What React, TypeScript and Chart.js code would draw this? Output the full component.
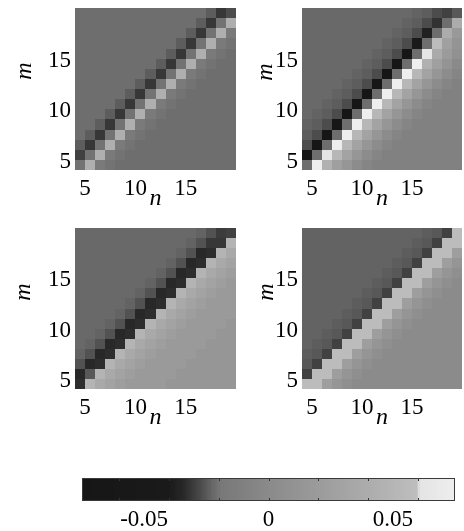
import React, { useEffect, useRef, useState } from "react";
import { Chart, registerables } from "chart.js";
Chart.register(...registerables);

// ---- data ----
// grid coordinates (cell [k, k+1])
const N_VALUES = [4, 5, 6, 7, 8, 9, 10, 11, 12, 13, 14, 15, 16, 17, 18, 19];
const M_VALUES = [4, 5, 6, 7, 8, 9, 10, 11, 12, 13, 14, 15, 16, 17, 18, 19];
const AXIS_TICKS = [5, 10, 15];
const CB_TICKS = [-0.05, 0, 0.05];
const CB_MINOR_TICKS = [-0.06, -0.04, -0.02, 0, 0.02, 0.04, 0.06];
const CB_MIN = -0.075;
const CB_MAX = 0.075;

// colour scale (values in units of 1e-3 -> grey level)
const CMAP_VALUES = [-75, -40, -34, -28, -22, -19, 0, 20, 40, 60, 61, 75];
const CMAP_GRAYS = [22, 26, 40, 70, 105, 120, 138, 155, 172, 190, 228, 238];

// matrices, values in units of 1e-3; rows from m = 19 (top) down to m = 4; columns n = 4..19
const PANEL_A = [
  [-21, -21, -21, -21, -21, -21, -21, -21, -21, -21, -21, -21, -21, -24, -31, -27],
  [-21, -21, -21, -21, -21, -21, -21, -21, -21, -21, -21, -21, -24, -31, -20, 43],
  [-21, -21, -21, -21, -21, -21, -21, -21, -21, -21, -21, -24, -31, -20, 43, -17],
  [-21, -21, -21, -21, -21, -21, -21, -21, -21, -21, -24, -31, -20, 43, -17, -20],
  [-21, -21, -21, -21, -21, -21, -21, -21, -21, -24, -31, -20, 43, -17, -20, -21],
  [-21, -21, -21, -21, -21, -21, -21, -21, -24, -31, -20, 43, -17, -20, -21, -21],
  [-21, -21, -21, -21, -21, -21, -21, -24, -31, -20, 43, -17, -20, -21, -21, -21],
  [-21, -21, -21, -21, -21, -21, -24, -31, -20, 43, -17, -20, -21, -21, -21, -21],
  [-21, -21, -21, -21, -21, -24, -31, -20, 43, -17, -20, -21, -21, -21, -21, -21],
  [-21, -21, -21, -21, -24, -31, -20, 43, -17, -20, -21, -21, -21, -21, -21, -21],
  [-21, -21, -21, -24, -31, -20, 43, -17, -20, -21, -21, -21, -21, -21, -21, -21],
  [-21, -21, -24, -31, -20, 43, -17, -20, -21, -21, -21, -21, -21, -21, -21, -21],
  [-21, -24, -31, -20, 43, -17, -20, -21, -21, -21, -21, -21, -21, -21, -21, -21],
  [-24, -31, -20, 43, -17, -20, -21, -21, -21, -21, -21, -21, -21, -21, -21, -21],
  [-29, -20, 43, -17, -20, -21, -21, -21, -21, -21, -21, -21, -21, -21, -21, -21],
  [-20, 43, -17, -20, -21, -21, -21, -21, -21, -21, -21, -21, -21, -21, -21, -21],
];

const PANEL_B = [
  [-22, -22, -22, -22, -22, -22, -22, -22, -22, -22, -22, -23, -24, -27, -29, -25],
  [-22, -22, -22, -22, -22, -22, -22, -22, -22, -22, -23, -24, -27, -32, -21, 40],
  [-22, -22, -22, -22, -22, -22, -22, -22, -22, -23, -24, -27, -37, -21, 40, 18],
  [-22, -22, -22, -22, -22, -22, -22, -22, -23, -24, -27, -40, -21, 58, 26, 12],
  [-22, -22, -22, -22, -22, -22, -22, -23, -24, -27, -75, -21, 62, 38, 20, 8],
  [-22, -22, -22, -22, -22, -22, -23, -24, -27, -75, -21, 75, 44, 26, 12, 0],
  [-22, -22, -22, -22, -22, -23, -24, -27, -75, -21, 75, 52, 29, 14, 2, -5],
  [-22, -22, -22, -22, -23, -24, -27, -75, -21, 75, 52, 29, 14, 2, -5, -9],
  [-22, -22, -22, -23, -24, -27, -75, -21, 75, 52, 29, 14, 2, -5, -9, -9],
  [-22, -22, -23, -24, -27, -75, -21, 75, 52, 29, 14, 2, -5, -9, -9, -9],
  [-22, -23, -24, -27, -75, -21, 75, 52, 29, 14, 2, -5, -9, -9, -9, -9],
  [-23, -24, -27, -75, -21, 75, 52, 29, 14, 2, -5, -9, -9, -9, -9, -9],
  [-24, -27, -75, -21, 75, 52, 29, 14, 2, -5, -9, -9, -9, -9, -9, -9],
  [-27, -75, -21, 75, 52, 29, 14, 2, -5, -9, -9, -9, -9, -9, -9, -9],
  [-75, -21, 62, 52, 29, 14, 2, -5, -9, -9, -9, -9, -9, -9, -9, -9],
  [-21, 75, 45, 25, 14, 2, -5, -9, -9, -9, -9, -9, -9, -9, -9, -9],
];

const PANEL_C = [
  [-22, -22, -22, -22, -22, -22, -22, -22, -22, -22, -22, -22, -23, -26, -30, -29],
  [-22, -22, -22, -22, -22, -22, -22, -22, -22, -22, -22, -23, -26, -31, -31, 49],
  [-22, -22, -22, -22, -22, -22, -22, -22, -22, -22, -23, -26, -34, -33, 49, 37],
  [-22, -22, -22, -22, -22, -22, -22, -22, -22, -23, -26, -34, -33, 49, 37, 29],
  [-22, -22, -22, -22, -22, -22, -22, -22, -23, -26, -34, -33, 49, 37, 29, 23],
  [-22, -22, -22, -22, -22, -22, -22, -23, -26, -34, -33, 49, 37, 29, 23, 19],
  [-22, -22, -22, -22, -22, -22, -23, -26, -34, -33, 49, 37, 29, 23, 19, 19],
  [-22, -22, -22, -22, -22, -23, -26, -34, -33, 49, 37, 29, 23, 19, 19, 19],
  [-22, -22, -22, -22, -23, -26, -34, -33, 49, 37, 29, 23, 19, 19, 19, 19],
  [-22, -22, -22, -23, -26, -34, -33, 49, 37, 29, 23, 19, 19, 19, 19, 14],
  [-22, -22, -23, -26, -34, -33, 49, 37, 29, 23, 19, 19, 19, 19, 14, 14],
  [-22, -23, -26, -34, -33, 49, 37, 29, 23, 19, 19, 19, 19, 14, 14, 14],
  [-23, -26, -34, -33, 49, 37, 29, 23, 19, 19, 19, 19, 14, 14, 14, 14],
  [-26, -34, -33, 49, 37, 29, 23, 19, 19, 19, 19, 14, 14, 14, 14, 14],
  [-34, -25, 49, 37, 29, 23, 19, 19, 19, 19, 14, 14, 14, 14, 14, 14],
  [-33, 49, 37, 29, 23, 19, 19, 19, 19, 14, 14, 14, 14, 14, 14, 14],
];

const PANEL_D = [
  [-23, -23, -23, -23, -23, -23, -23, -23, -23, -23, -23, -23, -24, -25, -29, 58],
  [-23, -23, -23, -23, -23, -23, -23, -23, -23, -23, -23, -24, -25, -29, 58, 58],
  [-23, -23, -23, -23, -23, -23, -23, -23, -23, -23, -24, -25, -29, 58, 58, 24],
  [-23, -23, -23, -23, -23, -23, -23, -23, -23, -24, -25, -29, 58, 58, 24, 13],
  [-23, -23, -23, -23, -23, -23, -23, -23, -24, -25, -29, 58, 58, 24, 13, 6],
  [-23, -23, -23, -23, -23, -23, -23, -24, -25, -29, 58, 58, 24, 13, 6, 1],
  [-23, -23, -23, -23, -23, -23, -24, -25, -29, 58, 58, 24, 13, 6, 1, 1],
  [-23, -23, -23, -23, -23, -24, -25, -29, 58, 58, 24, 13, 6, 1, 1, 1],
  [-23, -23, -23, -23, -24, -25, -29, 58, 58, 24, 13, 6, 1, 1, 1, 1],
  [-23, -23, -23, -24, -25, -29, 58, 58, 24, 13, 6, 1, 1, 1, 1, 1],
  [-23, -23, -24, -25, -29, 58, 58, 24, 13, 6, 1, 1, 1, 1, 1, 1],
  [-23, -24, -25, -29, 58, 58, 24, 13, 6, 1, 1, 1, 1, 1, 1, 1],
  [-24, -25, -29, 58, 58, 24, 13, 6, 1, 1, 1, 1, 1, 1, 1, 1],
  [-25, -29, 58, 58, 24, 13, 6, 1, 1, 1, 1, 1, 1, 1, 1, 1],
  [-29, 58, 58, 24, 13, 6, 1, 1, 1, 1, 1, 1, 1, 1, 1, 1],
  [58, 58, 24, 13, 6, 1, 1, 1, 1, 1, 1, 1, 1, 1, 1, 1],
];

// ---- helpers ----
const SERIF = "'Liberation Serif', serif";
const TICK_SIZE = 23;
const TITLE_SIZE = 24;
const TICK_GAP = 3 + (TICK_SIZE * 1.2) / 2; // axis line -> label centre

function grayFor(milli: number): string {
  let g = CMAP_GRAYS[0];
  if (milli >= CMAP_VALUES[CMAP_VALUES.length - 1]) g = CMAP_GRAYS[CMAP_GRAYS.length - 1];
  else {
    for (let i = 0; i < CMAP_VALUES.length - 1; i++) {
      const a = CMAP_VALUES[i], b = CMAP_VALUES[i + 1];
      if (milli >= a && milli <= b) {
        g = CMAP_GRAYS[i] + ((milli - a) / (b - a)) * (CMAP_GRAYS[i + 1] - CMAP_GRAYS[i]);
        break;
      }
    }
  }
  const v = Math.round(g);
  return `rgb(${v},${v},${v})`;
}

type Rect = { x: number; y: number; w: number; h: number };
type Label = { text: string; x: number; y: number; mode: "center" | "right" | "rot"; italic?: boolean; size: number };
type PanelCfg = { matrix: number[][]; box: Rect; plot: Rect; m: { x: number; y: number }; nY: number };

const PANELS: PanelCfg[] = [
  { matrix: PANEL_A, box: { x: 0, y: 0, w: 245, h: 215 }, plot: { x: 75, y: 8, w: 161, h: 162 }, m: { x: 23, y: 71 }, nY: 197 },
  { matrix: PANEL_B, box: { x: 245, y: 0, w: 219, h: 215 }, plot: { x: 302, y: 8, w: 160, h: 162 }, m: { x: 264, y: 72 }, nY: 197 },
  { matrix: PANEL_C, box: { x: 0, y: 215, w: 245, h: 225 }, plot: { x: 75, y: 228, w: 161, h: 161 }, m: { x: 22, y: 292 }, nY: 416 },
  { matrix: PANEL_D, box: { x: 245, y: 215, w: 219, h: 225 }, plot: { x: 302, y: 228, w: 160, h: 161 }, m: { x: 265, y: 292 }, nY: 416 },
];

function Labels({ items }: { items: Label[] }) {
  return (
    <>
      {items.map((l, i) => (
        <span
          key={i}
          style={{
            position: "absolute",
            left: l.x,
            top: l.y,
            transform:
              l.mode === "right"
                ? "translate(-100%, -50%)"
                : l.mode === "rot"
                ? "translate(-50%, -50%) rotate(-90deg)"
                : "translate(-50%, -50%)",
            fontFamily: SERIF,
            fontSize: l.size,
            fontStyle: l.italic ? "italic" : "normal",
            lineHeight: 1,
            whiteSpace: "nowrap",
            color: "#000",
          }}
        >
          {l.text}
        </span>
      ))}
    </>
  );
}

const cellPlugin = {
  id: "cells",
  beforeDatasetsDraw(chart: any) {
    const { ctx } = chart;
    const xs = chart.scales.x;
    const ys = chart.scales.y;
    const pts = chart.data.datasets[0].data as { x: number; y: number; v: number }[];
    ctx.save();
    for (const p of pts) {
      const x0 = Math.round(xs.getPixelForValue(p.x));
      const x1 = Math.round(xs.getPixelForValue(p.x + 1));
      const y0 = Math.round(ys.getPixelForValue(p.y + 1));
      const y1 = Math.round(ys.getPixelForValue(p.y));
      ctx.fillStyle = grayFor(p.v * 1000);
      ctx.fillRect(x0, y0, x1 - x0, y1 - y0);
    }
    ctx.restore();
  },
};

function HeatPanel({ cfg }: { cfg: PanelCfg }) {
  const ref = useRef<HTMLCanvasElement>(null);
  const [labels, setLabels] = useState<Label[]>([]);
  useEffect(() => {
    const { matrix, box, plot, m, nY } = cfg;
    const data: { x: number; y: number; v: number }[] = [];
    matrix.forEach((row, ri) => {
      const mv = M_VALUES[M_VALUES.length - 1 - ri];
      row.forEach((val, ci) => data.push({ x: N_VALUES[ci], y: mv, v: val / 1000 }));
    });
    const chart = new Chart(ref.current as HTMLCanvasElement, {
      type: "scatter",
      data: { datasets: [{ data: data as any, pointRadius: 0, pointHoverRadius: 0 }] },
      options: {
        animation: false,
        responsive: false,
        events: [],
        layout: {
          padding: { left: 0, top: plot.y - box.y, right: box.x + box.w - (plot.x + plot.w), bottom: 0 },
        },
        plugins: { legend: { display: false }, tooltip: { enabled: false } },
        scales: {
          x: {
            type: "linear",
            min: 4,
            max: 20,
            grid: { display: false, drawTicks: false },
            border: { display: false },
            afterBuildTicks: (s: any) => {
              s.ticks = AXIS_TICKS.map((v) => ({ value: v }));
            },
            afterFit: (s: any) => {
              s.height = box.y + box.h - (plot.y + plot.h);
            },
            ticks: { display: false },
          },
          y: {
            type: "linear",
            min: 4,
            max: 20,
            grid: { display: false, drawTicks: false },
            border: { display: false },
            afterBuildTicks: (s: any) => {
              s.ticks = AXIS_TICKS.map((v) => ({ value: v }));
            },
            afterFit: (s: any) => {
              s.width = plot.x - box.x;
            },
            ticks: { display: false },
          },
        },
      } as any,
      plugins: [cellPlugin],
    });
    // axis texts placed from the chart's own scales
    const xs: any = chart.scales.x;
    const ys: any = chart.scales.y;
    const bottom = box.y + ys.getPixelForValue(4);
    const left = box.x + xs.getPixelForValue(4);
    const items: Label[] = [];
    AXIS_TICKS.forEach((v) => {
      items.push({ text: String(v), x: box.x + xs.getPixelForValue(v), y: bottom + TICK_GAP, mode: "center", size: TICK_SIZE });
      items.push({ text: String(v), x: left - 4, y: box.y + ys.getPixelForValue(v), mode: "right", size: TICK_SIZE });
    });
    items.push({ text: "n", x: box.x + (xs.left + xs.right) / 2, y: nY, mode: "center", italic: true, size: TITLE_SIZE });
    items.push({ text: "m", x: m.x, y: m.y, mode: "rot", italic: true, size: TITLE_SIZE });
    setLabels(items);
    return () => chart.destroy();
  }, [cfg]);
  const { box } = cfg;
  return (
    <>
      <canvas
        ref={ref}
        width={box.w}
        height={box.h}
        style={{ position: "absolute", left: box.x, top: box.y, width: box.w, height: box.h }}
      />
      <Labels items={labels} />
    </>
  );
}

const CB_BOX: Rect = { x: 60, y: 466, w: 404, h: 65 };
const CB_PLOT: Rect = { x: 82, y: 478, w: 373, h: 23 };

function ColorBar() {
  const ref = useRef<HTMLCanvasElement>(null);
  const [labels, setLabels] = useState<Label[]>([]);
  useEffect(() => {
    const steps: { x: number; y: number }[] = [];
    for (let v = CB_MIN * 1000; v < CB_MAX * 1000; v += 0.5) steps.push({ x: v / 1000, y: 0.5 });
    const barPlugin = {
      id: "bar",
      beforeDatasetsDraw(chart: any) {
        const { ctx } = chart;
        const xs = chart.scales.x;
        const ys = chart.scales.y;
        const top = Math.round(ys.getPixelForValue(1));
        const bot = Math.round(ys.getPixelForValue(0));
        ctx.save();
        for (const s of chart.data.datasets[0].data) {
          const x0 = Math.floor(xs.getPixelForValue(s.x));
          const x1 = Math.ceil(xs.getPixelForValue(s.x + 0.0005));
          ctx.fillStyle = grayFor((s.x + 0.00025) * 1000);
          ctx.fillRect(x0, top, x1 - x0, bot - top);
        }
        ctx.strokeStyle = "#333";
        ctx.lineWidth = 1;
        for (const t of CB_MINOR_TICKS) {
          const px = Math.round(xs.getPixelForValue(t)) + 0.5;
          ctx.beginPath();
          ctx.moveTo(px, top);
          ctx.lineTo(px, top + 3);
          ctx.moveTo(px, bot);
          ctx.lineTo(px, bot - 3);
          ctx.stroke();
        }
        const l = Math.round(xs.getPixelForValue(CB_MIN)) + 0.5;
        const r = Math.round(xs.getPixelForValue(CB_MAX)) - 0.5;
        ctx.strokeStyle = "#3a3a3a";
        ctx.strokeRect(l, top + 0.5, r - l, bot - top - 1);
        ctx.restore();
      },
    };
    const chart = new Chart(ref.current as HTMLCanvasElement, {
      type: "scatter",
      data: { datasets: [{ data: steps as any, pointRadius: 0, pointHoverRadius: 0 }] },
      options: {
        animation: false,
        responsive: false,
        events: [],
        layout: {
          padding: {
            left: CB_PLOT.x - CB_BOX.x,
            top: CB_PLOT.y - CB_BOX.y,
            right: CB_BOX.x + CB_BOX.w - (CB_PLOT.x + CB_PLOT.w),
            bottom: 0,
          },
        },
        plugins: { legend: { display: false }, tooltip: { enabled: false } },
        scales: {
          x: {
            type: "linear",
            min: CB_MIN,
            max: CB_MAX,
            grid: { display: false, drawTicks: false },
            border: { display: false },
            afterBuildTicks: (s: any) => {
              s.ticks = CB_TICKS.map((v) => ({ value: v }));
            },
            afterFit: (s: any) => {
              s.height = CB_BOX.y + CB_BOX.h - (CB_PLOT.y + CB_PLOT.h);
            },
            ticks: { display: false },
          },
          y: { type: "linear", min: 0, max: 1, display: false },
        },
      } as any,
      plugins: [barPlugin],
    });
    const xs: any = chart.scales.x;
    const ys: any = chart.scales.y;
    const bottom = CB_BOX.y + ys.getPixelForValue(0);
    setLabels(
      CB_TICKS.map((v) => ({
        text: v === 0 ? "0" : v.toFixed(2),
        x: CB_BOX.x + xs.getPixelForValue(v),
        y: bottom + TICK_GAP,
        mode: "center" as const,
        size: TICK_SIZE,
      }))
    );
    return () => chart.destroy();
  }, []);
  return (
    <>
      <canvas
        ref={ref}
        width={CB_BOX.w}
        height={CB_BOX.h}
        style={{ position: "absolute", left: CB_BOX.x, top: CB_BOX.y, width: CB_BOX.w, height: CB_BOX.h }}
      />
      <Labels items={labels} />
    </>
  );
}

export default function App() {
  return (
    <div style={{ position: "absolute", left: 0, top: 0, width: 464, height: 531, background: "#fff", overflow: "hidden" }}>
      {PANELS.map((p, i) => (
        <HeatPanel key={i} cfg={p} />
      ))}
      <ColorBar />
    </div>
  );
}
